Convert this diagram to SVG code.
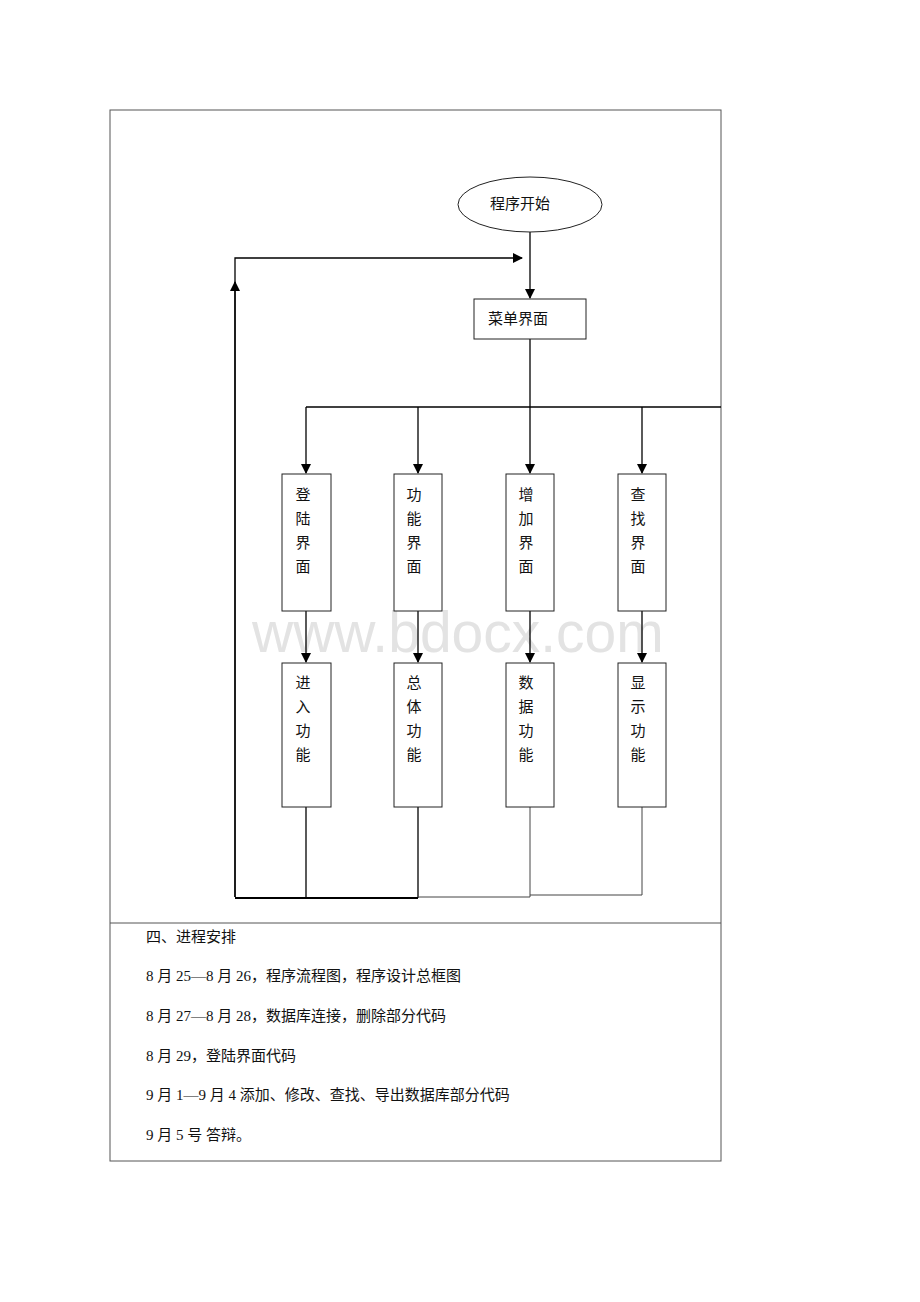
<svg xmlns="http://www.w3.org/2000/svg" width="920" height="1302" viewBox="0 0 920 1302">
<style>
.frame{fill:none;stroke:#555;stroke-width:1}
.box{fill:#fff;stroke:#222;stroke-width:1}
.ln{fill:none;stroke:#000;stroke-width:1.3}
.lt{fill:none;stroke:#444;stroke-width:1}
.t{font-family:"Liberation Sans","Noto Sans CJK SC",sans-serif;font-size:15px;fill:#111;text-anchor:middle;dominant-baseline:central}
.p{font-family:"Liberation Serif","Noto Sans CJK SC",serif;font-size:15px;fill:#111}
.wm{font-family:"Liberation Sans",Arial,sans-serif;font-size:57px;fill:#e3e3e3}
</style>
<defs>
<marker id="ah" markerWidth="10" markerHeight="10" refX="9" refY="5" orient="auto" markerUnits="userSpaceOnUse">
<path d="M0,0 L10,5 L0,10 Z" fill="#000"/>
</marker>
</defs>
<rect width="920" height="1302" fill="#fff"/>
<g id="frame">
<rect class="frame" x="110" y="110" width="611" height="1051"/>
<line class="frame" x1="110" y1="923" x2="721" y2="923"/>
</g>
<text class="wm" x="252" y="652">www.bdocx.com</text>
<g id="connectors">
<line class="ln" x1="530" y1="232" x2="530" y2="298" marker-end="url(#ah)"/>
<polyline class="ln" points="235,897 235,258 522,258" marker-end="url(#ah)"/>
<line class="ln" x1="235" y1="897" x2="235" y2="282" marker-end="url(#ah)"/>
<line class="ln" x1="530" y1="339" x2="530" y2="407"/>
<line class="ln" x1="306" y1="407" x2="721" y2="407"/>
<line class="ln" x1="306" y1="407" x2="306" y2="473" marker-end="url(#ah)"/>
<line class="ln" x1="418" y1="407" x2="418" y2="473" marker-end="url(#ah)"/>
<line class="ln" x1="530" y1="407" x2="530" y2="473" marker-end="url(#ah)"/>
<line class="ln" x1="642" y1="407" x2="642" y2="473" marker-end="url(#ah)"/>
<line class="ln" x1="306" y1="611" x2="306" y2="662" marker-end="url(#ah)"/>
<line class="ln" x1="418" y1="611" x2="418" y2="662" marker-end="url(#ah)"/>
<line class="ln" x1="530" y1="611" x2="530" y2="662" marker-end="url(#ah)"/>
<line class="ln" x1="642" y1="611" x2="642" y2="662" marker-end="url(#ah)"/>
<line class="ln" x1="306" y1="807" x2="306" y2="898"/>
<line class="ln" x1="418" y1="807" x2="418" y2="898"/>
<line class="lt" x1="530" y1="807" x2="530" y2="897"/>
<line class="lt" x1="642" y1="807" x2="642" y2="895"/>
<line x1="235" y1="898" x2="418" y2="898" stroke="#000" stroke-width="2"/>
<line class="lt" x1="418" y1="897" x2="530" y2="897"/>
<line class="lt" x1="530" y1="895" x2="642" y2="895"/>
</g>
<g id="start">
<ellipse cx="530" cy="204.5" rx="72" ry="27.5" fill="#fff" stroke="#222"/>
<text class="t" x="520" y="203">程序开始</text>
</g>
<g id="menu">
<rect class="box" x="474" y="299" width="112" height="40"/>
<text class="t" x="518" y="318">菜单界面</text>
</g>
<g id="login">
<rect class="box" x="282" y="474" width="49" height="137"/>
<text class="t" x="303" y="494">登</text><text class="t" x="303" y="518">陆</text><text class="t" x="303" y="542">界</text><text class="t" x="303" y="566">面</text>
</g>
<g id="func">
<rect class="box" x="394" y="474" width="48" height="137"/>
<text class="t" x="414" y="494">功</text><text class="t" x="414" y="518">能</text><text class="t" x="414" y="542">界</text><text class="t" x="414" y="566">面</text>
</g>
<g id="add">
<rect class="box" x="506" y="474" width="48" height="137"/>
<text class="t" x="526" y="494">增</text><text class="t" x="526" y="518">加</text><text class="t" x="526" y="542">界</text><text class="t" x="526" y="566">面</text>
</g>
<g id="search">
<rect class="box" x="618" y="474" width="48" height="137"/>
<text class="t" x="638" y="494">查</text><text class="t" x="638" y="518">找</text><text class="t" x="638" y="542">界</text><text class="t" x="638" y="566">面</text>
</g>
<g id="enter">
<rect class="box" x="282" y="663" width="49" height="144"/>
<text class="t" x="303" y="682">进</text><text class="t" x="303" y="706">入</text><text class="t" x="303" y="730">功</text><text class="t" x="303" y="754">能</text>
</g>
<g id="overall">
<rect class="box" x="394" y="663" width="48" height="144"/>
<text class="t" x="414" y="682">总</text><text class="t" x="414" y="706">体</text><text class="t" x="414" y="730">功</text><text class="t" x="414" y="754">能</text>
</g>
<g id="data">
<rect class="box" x="506" y="663" width="48" height="144"/>
<text class="t" x="526" y="682">数</text><text class="t" x="526" y="706">据</text><text class="t" x="526" y="730">功</text><text class="t" x="526" y="754">能</text>
</g>
<g id="display">
<rect class="box" x="618" y="663" width="48" height="144"/>
<text class="t" x="638" y="682">显</text><text class="t" x="638" y="706">示</text><text class="t" x="638" y="730">功</text><text class="t" x="638" y="754">能</text>
</g>
<g id="schedule">
<text class="p" x="146" y="942">四、进程安排</text>
<text class="p" x="146" y="981">8 月 25—8 月 26，程序流程图，程序设计总框图</text>
<text class="p" x="146" y="1021">8 月 27—8 月 28，数据库连接，删除部分代码</text>
<text class="p" x="146" y="1061">8 月 29，登陆界面代码</text>
<text class="p" x="146" y="1100">9 月 1—9 月 4 添加、修改、查找、导出数据库部分代码</text>
<text class="p" x="146" y="1140">9 月 5 号 答辩。</text>
</g>
</svg>
